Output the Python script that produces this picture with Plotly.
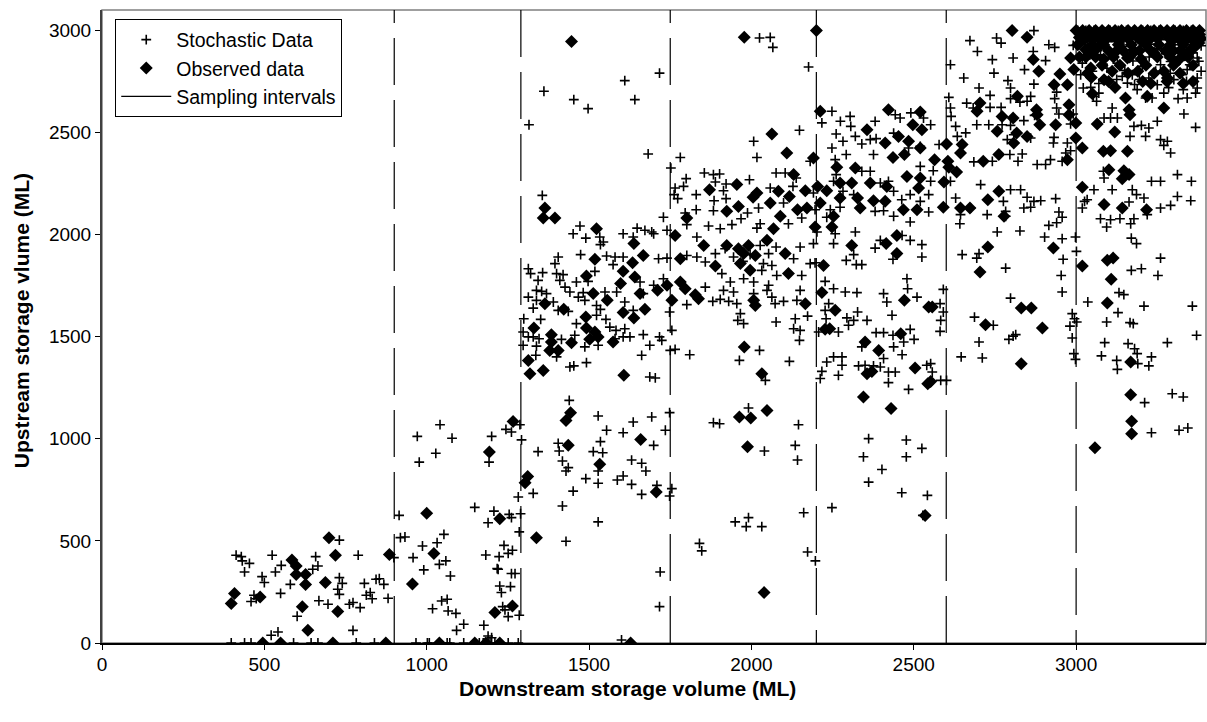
import plotly.graph_objects as go

# Downstream (x) / upstream (y) storage volumes in ML, grouped by sampling interval.

# ---- Stochastic data ----
stoch_a = [(413, 430), (429, 423), (432, 402), (454, 390), (439, 348), (524, 430), (552, 380), (534, 348),
           (493, 325), (500, 296), (468, 234), (459, 203), (475, 217), (550, 243), (580, 287), (601, 131),
           (658, 423), (665, 377), (649, 361), (668, 207), (696, 190), (731, 504), (789, 430), (731, 320),
           (740, 292), (726, 263), (731, 238), (762, 190), (773, 198), (795, 173), (808, 292), (814, 234),
           (826, 247), (832, 217), (844, 312), (773, 62), (521, 38), (542, 54), (854, 315), (868, 287),
           (881, 219), (899, 418), (398, 0), (439, 0), (459, 0), (590, 0), (644, 0), (665, 0), (783, 0), (839, 0)]
stoch_b = [(915, 625), (919, 516), (933, 519), (1053, 532), (987, 475), (1032, 491), (958, 418), (1039, 385),
           (1059, 402), (991, 358), (1073, 328), (1182, 431), (1223, 423), (1238, 478), (1251, 439), (1264, 454),
           (1217, 364), (1220, 361), (1261, 340), (1272, 340), (1225, 279), (1230, 247), (1258, 276), (1046, 206),
           (1063, 214), (1018, 168), (1066, 157), (1090, 145), (1114, 92), (1092, 62), (1176, 87), (1234, 178),
           (1241, 162), (1251, 129), (1285, 136), (1189, 34), (1200, 26), (1148, 664), (1207, 646), (1189, 589),
           (1254, 630), (1261, 614), (1289, 633), (1285, 544), (1282, 715), (1028, 929), (977, 886), (1192, 886),
           (971, 1012), (1078, 1003), (1200, 1012), (1041, 1069), (1244, 1046), (1261, 1033), (1287, 1069),
           (967, 0), (1002, 0), (1008, 0), (1063, 0), (1071, 0), (1114, 0), (1162, 0), (1174, 0), (1195, 0),
           (1210, 0), (1251, 0), (1282, 0)]
stoch_c = [(1292, 995), (1343, 937), (1405, 978), (1408, 940), (1513, 937), (1535, 986), (1542, 932), (1418, 891),
           (1436, 859), (1429, 842), (1490, 805), (1528, 842), (1528, 782), (1587, 798), (1605, 818), (1631, 896),
           (1662, 880), (1675, 842), (1631, 777), (1662, 728), (1451, 744), (1328, 733), (1418, 671), (1528, 593),
           (1429, 498), (1600, 15), (1699, 968), (1709, 772), (1748, 720), (1719, 348), (1717, 178),
           (1451, 2004), (1472, 2042), (1490, 1983), (1533, 1988), (1544, 1964), (1535, 1951), (1605, 2004),
           (1636, 1988), (1648, 2032), (1672, 2021), (1693, 2013), (1405, 1890), (1395, 1858), (1474, 1902),
           (1554, 1895), (1580, 1890), (1605, 1890), (1574, 1853), (1518, 1820), (1313, 1833), (1320, 1809),
           (1357, 1814), (1343, 1776), (1400, 1809), (1420, 1804), (1410, 1776), (1461, 1768), (1497, 1771),
           (1354, 1722), (1369, 1711), (1338, 1727), (1426, 1743), (1441, 1719), (1467, 1694), (1482, 1716),
           (1549, 1719), (1585, 1719), (1313, 1694), (1338, 1678), (1328, 1640), (1390, 1670), (1405, 1629),
           (1436, 1624), (1487, 1678), (1523, 1653), (1535, 1634), (1610, 1670), (1636, 1629), (1667, 1711),
           (1657, 1768), (1299, 1588), (1351, 1585), (1461, 1564), (1523, 1605), (1552, 1585), (1564, 1547),
           (1583, 1531), (1610, 1539), (1297, 1523), (1313, 1499), (1328, 1499), (1346, 1490), (1297, 1458),
           (1338, 1454), (1336, 1409), (1415, 1487), (1456, 1507), (1487, 1450), (1528, 1458), (1580, 1490),
           (1605, 1499), (1626, 1499), (1667, 1510), (1687, 1458), (1400, 1401), (1441, 1352), (1453, 1357),
           (1492, 1373), (1662, 1409), (1687, 1303), (1439, 1188), (1528, 1112), (1636, 1082), (1693, 1107),
           (1554, 1042), (1605, 1030), (1610, 2754), (1641, 2661), (1361, 2702), (1453, 2661), (1497, 2617),
           (1315, 2538), (1682, 2395), (1356, 2192), (1717, 2791), (1699, 2004), (1740, 2021), (1714, 1882),
           (1740, 1885), (1729, 1784), (1699, 1752), (1748, 1621), (1717, 1499), (1724, 1482), (1735, 1042),
           (1748, 1128), (1704, 1298), (1729, 2085)]
stoch_d = [(2040, 940), (2135, 968), (2142, 896), (1755, 756), (2161, 638), (1950, 593), (1991, 614), (1984, 570),
           (2032, 570), (1840, 488), (1847, 451), (2173, 446), (2197, 402),
           (1801, 2049), (1832, 1988), (1868, 2042), (1904, 2029), (1940, 2049), (2017, 2032), (2027, 2053),
           (2114, 2053), (2150, 1939), (2191, 1956), (2181, 1858), (2196, 1862), (1801, 1898), (1832, 1890),
           (1858, 1866), (1889, 1907), (1919, 1931), (1945, 1890), (1974, 1869), (1996, 1902), (2027, 1947),
           (2053, 1907), (2076, 1939), (2104, 1907), (2130, 1882), (2037, 1858), (2063, 1849), (1909, 1809),
           (1935, 1768), (1976, 1784), (2007, 1768), (2032, 1825), (2078, 1800), (2155, 1800), (1858, 1743),
           (1914, 1727), (1945, 1719), (2053, 1752), (2048, 1727), (2063, 1694), (2099, 1673), (2073, 1662),
           (2150, 1727), (2140, 1678), (1881, 1673), (1904, 1683), (1930, 1673), (1955, 1662), (1801, 1657),
           (2007, 1711), (1966, 1613), (1958, 1580), (1976, 1564), (2076, 1572), (2135, 1588), (2173, 1601),
           (2130, 1539), (2150, 1531), (2148, 1482), (1755, 1531), (1750, 1433), (1765, 1438), (1810, 1412),
           (1963, 1384), (2025, 1433), (2117, 1379), (2043, 1286), (1991, 1151), (1883, 1079), (1902, 1074),
           (2145, 1069),
           (2025, 2963), (2058, 2966), (2066, 2917), (2176, 2821), (2007, 2457), (2017, 2378), (2148, 2511),
           (1781, 2378), (1752, 2326), (1765, 2228), (1762, 2196), (1791, 2236), (1773, 2176), (1799, 2274),
           (1830, 2196), (1855, 2302), (1883, 2294), (1902, 2297), (1889, 2258), (1922, 2248), (1914, 2215),
           (1885, 2166), (1883, 2117), (1830, 2122), (1796, 2106), (1922, 2176), (1994, 2269), (1968, 2078),
           (1988, 2106), (2022, 2130), (2058, 2228), (2076, 2302), (2104, 2302), (2138, 2277), (2128, 2236),
           (2099, 2155), (2155, 2081), (2181, 2359), (2191, 2204), (2196, 2122)]
stoch_e = [(2361, 1001), (2477, 994), (2525, 953), (2345, 912), (2477, 912), (2402, 850), (2361, 788), (2463, 736),
           (2542, 723), (2248, 663), (2528, 625),
           (2202, 2013), (2253, 1956), (2258, 2004), (2320, 2013), (2381, 1934), (2397, 1972), (2464, 1996),
           (2489, 1972), (2525, 1951), (2525, 1890), (2489, 2062), (2315, 1902), (2292, 1874), (2323, 1853),
           (2340, 1853), (2436, 1879), (2207, 1523), (2227, 1771), (2253, 1735), (2289, 1719), (2325, 1716),
           (2238, 1662), (2227, 1629), (2230, 1588), (2268, 1523), (2294, 1592), (2299, 1556), (2315, 1580),
           (2327, 1621), (2356, 1580), (2407, 1711), (2417, 1670), (2433, 1605), (2479, 1784), (2481, 1735),
           (2510, 1694), (2384, 1520), (2407, 1520), (2436, 1507), (2489, 1536), (2501, 1487), (2469, 1474),
           (2438, 1450), (2464, 1412), (2340, 1450), (2407, 1393), (2330, 1357), (2350, 1360), (2376, 1357),
           (2397, 1352), (2422, 1327), (2443, 1327), (2422, 1275), (2484, 1242), (2268, 1311), (2217, 1330),
           (2232, 1376), (2253, 1401), (2279, 1401), (2279, 1360), (2212, 1295), (2540, 1360),
           (2248, 2604), (2217, 2547), (2274, 2555), (2304, 2579), (2306, 2530), (2261, 2493), (2282, 2457),
           (2320, 2481), (2340, 2444), (2381, 2555), (2366, 2465), (2384, 2470), (2376, 2392), (2258, 2367),
           (2292, 2392), (2248, 2424), (2261, 2294), (2253, 2261), (2340, 2310), (2366, 2310), (2282, 2212),
           (2315, 2196), (2397, 2253), (2422, 2261), (2438, 2212), (2463, 2171), (2489, 2196), (2443, 2587),
           (2458, 2571), (2491, 2596), (2530, 2571), (2438, 2497), (2484, 2424), (2520, 2432), (2520, 2334),
           (2243, 2122), (2273, 2134), (2232, 2085), (2381, 2114), (2407, 2117), (2438, 2090), (2520, 2163),
           (2546, 2196), (2546, 2111),
           (2581, 1662), (2591, 1621), (2583, 1580), (2581, 1526), (2552, 1368), (2557, 1327), (2583, 1286),
           (2601, 1286), (2591, 1732), (2552, 2538), (2560, 2313), (2552, 2261), (2578, 2441)]
stoch_f = [(2642, 2053), (2757, 2013), (2827, 2018), (2916, 2045), (2940, 2058), (2903, 1988), (2957, 1980),
           (2998, 1988), (2649, 1902), (2694, 1885), (2701, 1907), (2783, 1836), (2960, 1879), (2954, 1800),
           (2957, 1719), (2798, 1689), (2687, 1596), (2745, 1556), (2701, 1474), (2793, 1487), (2806, 1503),
           (2814, 1510), (2646, 1401), (2711, 1396), (2988, 1613), (2995, 1588), (2981, 1552), (2988, 1494),
           (2993, 1417), (2998, 1389),
           (2870, 2999), (2673, 2950), (2696, 2897), (2755, 2963), (2769, 2938), (2806, 2865), (2742, 2857),
           (2747, 2791), (2613, 2832), (2654, 2767), (2701, 2718), (2790, 2754), (2798, 2718), (2870, 2737),
           (2841, 2808), (2906, 2852), (2868, 2897), (2916, 2930), (2934, 2917), (2608, 2672), (2613, 2620),
           (2615, 2579), (2663, 2644), (2683, 2620), (2735, 2682), (2735, 2623), (2769, 2623), (2849, 2653),
           (2860, 2677), (2798, 2666), (2827, 2649), (2940, 2698), (2934, 2666), (2940, 2620), (2947, 2591),
           (2872, 2584), (2839, 2558), (2798, 2535), (2772, 2538), (2731, 2538), (2694, 2538), (2808, 2489),
           (2788, 2465), (2860, 2473), (2932, 2476), (2930, 2449), (2973, 2449), (2983, 2542), (2991, 2591),
           (2983, 2411), (2968, 2400), (2957, 2359), (2921, 2367), (2906, 2343), (2880, 2343), (2834, 2395),
           (2821, 2359), (2796, 2392), (2742, 2359), (2685, 2356), (2660, 2498), (2629, 2530), (2634, 2481),
           (2613, 2261), (2706, 2245), (2798, 2220), (2829, 2220), (2849, 2183), (2870, 2163), (2891, 2166),
           (2937, 2176), (2839, 2130), (2860, 2134), (2776, 2163), (2783, 2114), (2726, 2098), (2783, 2090),
           (2947, 2111), (2957, 2085), (2644, 2098), (2629, 2179), (2675, 2130), (2991, 2927)]
stoch_g = [(3036, 1670), (3094, 2037), (3168, 2053), (3170, 1983), (3186, 1956), (3170, 1825), (3201, 1833),
           (3252, 1800), (3260, 1885), (3132, 1716), (3147, 1706), (3129, 1618), (3094, 1572), (3166, 1569),
           (3176, 1564), (3209, 1650), (3358, 1650), (3088, 1471), (3160, 1466), (3180, 1441), (3188, 1417),
           (3078, 1406), (3125, 1384), (3127, 1340), (3190, 1368), (3224, 1357), (3232, 1401), (3281, 1471),
           (3371, 1507), (3211, 1177), (3296, 1221), (3330, 1205), (3232, 1030), (3317, 1042), (3344, 1053),
           (3001, 1918), (3002, 1572),
           (3075, 2078), (3106, 2073), (3135, 2078), (3178, 2078), (3219, 2098), (3260, 2130), (3291, 2143),
           (3312, 2187), (3353, 2166), (3355, 2261), (3312, 2294), (3260, 2261), (3232, 2261), (3209, 2179),
           (3173, 2220), (3186, 2196), (3163, 2160), (3111, 2220), (3086, 2277), (3084, 2310), (3055, 2220),
           (3034, 2171), (3026, 2163), (3019, 2130), (3291, 2400), (3260, 2465), (3270, 2437), (3281, 2457),
           (3332, 2591), (3368, 2525), (3250, 2555), (3201, 2535), (3178, 2530), (3166, 2481), (3214, 2481),
           (3224, 2522), (3106, 2571), (3127, 2571), (3086, 2571), (3111, 2620), (3070, 2693), (3045, 2721),
           (3063, 2653), (3022, 2718), (3053, 2677), (3014, 2783), (3019, 2840), (3024, 2881), (3009, 2933),
           (3065, 2901), (3127, 2840), (3142, 2775), (3158, 2742), (3173, 2783), (3204, 2824), (3224, 2767),
           (3188, 2710), (3214, 2669), (3234, 2669), (3250, 2734), (3270, 2693), (3301, 2759), (3327, 2783),
           (3342, 2808), (3350, 2832), (3373, 2767), (3373, 2718), (3368, 2693), (3342, 2669), (3314, 2666),
           (3373, 2865), (3378, 2849), (3291, 2848), (3260, 2832), (3229, 2933), (3260, 2955), (3317, 2955),
           (3342, 2955), (3096, 2946), (3147, 2922), (3183, 2955), (3034, 2946),
           (3005, 3000), (3030, 3000), (3055, 3000), (3080, 3000), (3105, 3000), (3130, 3000), (3155, 3000),
           (3180, 3000), (3205, 3000), (3230, 3000), (3255, 3000), (3280, 3000), (3305, 3000), (3330, 3000),
           (3355, 3000), (3380, 3000),
           (3020, 2975), (3060, 2970), (3100, 2980), (3140, 2985), (3190, 2975), (3240, 2980), (3285, 2975),
           (3325, 2985), (3365, 2970), (3040, 2920), (3080, 2935), (3120, 2945), (3165, 2905), (3210, 2925),
           (3250, 2910), (3300, 2930), (3340, 2915), (3385, 2925), (3030, 2860), (3075, 2880), (3115, 2870),
           (3175, 2850), (3225, 2870), (3275, 2885), (3320, 2855), (3360, 2890), (3050, 2800), (3095, 2815),
           (3150, 2805), (3195, 2760), (3245, 2800), (3290, 2790), (3340, 2750), (3385, 2800), (3070, 2740),
           (3125, 2760), (3180, 2735), (3285, 2720), (3330, 2710)]

# ---- Observed data ----
obs_a = [(408, 243), (398, 194), (487, 225), (585, 407), (598, 377), (598, 336), (627, 336), (627, 287),
         (688, 296), (699, 516), (719, 430), (617, 177), (726, 154), (634, 62), (495, 0), (550, 0), (711, 0),
         (885, 434), (874, 0)]
obs_b = [(1193, 935), (1000, 635), (1225, 609), (1022, 438), (956, 289), (1210, 149), (1264, 181), (1266, 1085),
         (1039, 0), (1148, 0), (1182, 0), (1225, 0)]
obs_c = [(1311, 815), (1303, 785), (1436, 968), (1533, 875), (1659, 997), (1338, 516), (1628, 0), (1446, 2946),
         (1364, 2130), (1359, 2081), (1395, 2081),
         (1523, 2029), (1638, 1956), (1518, 1879), (1634, 1862), (1605, 1820), (1667, 1898), (1492, 1797),
         (1597, 1760), (1641, 1792), (1513, 1711), (1556, 1678), (1364, 1662), (1422, 1634), (1605, 1618),
         (1638, 1592), (1657, 1711), (1672, 1634), (1490, 1596), (1492, 1543), (1518, 1523), (1502, 1487),
         (1528, 1499), (1446, 1471), (1574, 1474), (1330, 1543), (1384, 1510), (1384, 1474), (1379, 1433),
         (1405, 1433), (1313, 1384), (1318, 1319), (1359, 1335), (1607, 1311), (1443, 1128), (1429, 1090),
         (1711, 1727), (1740, 1752), (1707, 740)]
obs_d = [(1988, 961), (2039, 247),
         (1765, 1996), (1781, 1882), (1853, 1947), (1889, 1846), (1924, 1947), (1960, 1931), (1976, 1907),
         (1991, 1947), (2012, 1898), (1966, 1858), (1996, 1825), (2048, 1972), (2104, 1907), (2114, 1809),
         (2068, 2029), (2196, 2037), (2166, 1662), (1755, 1678), (1781, 1768), (1796, 1735), (1827, 1706),
         (1837, 1686), (2007, 1678), (2012, 1653), (1978, 1450), (2032, 1319), (2048, 1139), (1963, 1107),
         (1998, 1102),
         (1978, 2966), (2200, 2999), (2063, 2493), (2109, 2400), (2191, 2375), (2130, 2294), (1955, 2245),
         (1871, 2220), (2017, 2204), (2005, 2183), (2083, 2212), (2117, 2187), (2166, 2215), (1801, 2081),
         (1924, 2114), (1960, 2138), (2058, 2155), (2089, 2090), (2142, 2122), (2171, 2130)]
obs_e = [(2535, 625),
         (2248, 2037), (2309, 1947), (2222, 1849), (2217, 1716), (2258, 1629), (2227, 1536), (2241, 1539),
         (2415, 1956), (2448, 1996), (2448, 1907), (2471, 1678), (2546, 1645), (2350, 1474), (2392, 1433),
         (2460, 1515), (2356, 1319), (2371, 1330), (2504, 1347), (2543, 1270), (2345, 1205), (2430, 1148),
         (2212, 2604), (2356, 2514), (2422, 2612), (2520, 2600), (2412, 2449), (2453, 2481), (2484, 2457),
         (2520, 2424), (2436, 2378), (2471, 2392), (2497, 2538), (2525, 2514), (2263, 2330), (2320, 2326),
         (2204, 2236), (2232, 2215), (2273, 2253), (2309, 2253), (2366, 2253), (2417, 2236), (2273, 2179),
         (2327, 2179), (2376, 2166), (2412, 2163), (2479, 2285), (2515, 2228), (2520, 2277), (2212, 2155),
         (2253, 2090), (2335, 2130), (2468, 2122), (2510, 2122), (2557, 1645), (2552, 1281), (2564, 2367),
         (2593, 2258), (2591, 2134)]
obs_f = [(2728, 1939), (2704, 1817), (2930, 1934), (2831, 1641), (2862, 1641), (2721, 1559), (2896, 1543),
         (2831, 1368),
         (2803, 2999), (2849, 2966), (2868, 2857), (2885, 2800), (2950, 2786), (2932, 2734), (2973, 2734),
         (2819, 2677), (2878, 2612), (2880, 2587), (2704, 2644), (2695, 2604), (2772, 2579), (2806, 2571),
         (2888, 2538), (2937, 2538), (2978, 2636), (2978, 2587), (2999, 2547), (2999, 2473), (2808, 2449),
         (2757, 2506), (2817, 2498), (2849, 2481), (2601, 2444), (2649, 2441), (2644, 2400), (2605, 2359),
         (2608, 2330), (2632, 2307), (2973, 2367), (2762, 2392), (2714, 2359), (2728, 2171), (2762, 2212),
         (2644, 2130), (2673, 2130), (2778, 2090), (2983, 2865), (2993, 2808)]
obs_g = [(3019, 1846), (3096, 1874), (3114, 1885), (3108, 1781), (3096, 1665), (3168, 1376), (3168, 1216),
         (3171, 1086), (3171, 1025), (3058, 956),
         (3019, 2424), (3019, 2232), (3086, 2147), (3142, 2130), (3217, 2122), (3065, 2542), (3119, 2502),
         (3101, 2318), (3147, 2313), (3142, 2274), (3163, 2294), (3084, 2408), (3106, 2411), (3158, 2408),
         (3166, 2587), (3163, 2612), (3270, 2620), (3270, 2800), (3281, 2767), (3317, 2857), (3378, 2938),
         (3152, 2669), (3219, 2677), (3047, 2770), (3086, 2759), (3111, 2800), (3158, 2865), (3180, 2897),
         (3065, 2914), (3029, 2906), (3045, 2816),
         (3000, 3000), (3020, 3000), (3040, 3000), (3060, 3000), (3080, 3000), (3100, 3000), (3120, 3000),
         (3140, 3000), (3160, 3000), (3180, 3000), (3200, 3000), (3220, 3000), (3240, 3000), (3260, 3000),
         (3280, 3000), (3300, 3000), (3320, 3000), (3340, 3000), (3360, 3000), (3380, 3000),
         (3010, 2965), (3040, 2975), (3075, 2955), (3110, 2975), (3140, 2960), (3170, 2980), (3200, 2950),
         (3235, 2970), (3265, 2985), (3295, 2950), (3325, 2975), (3355, 2960), (3380, 2980), (3030, 2870),
         (3085, 2860), (3125, 2900), (3200, 2860), (3240, 2890), (3300, 2900), (3335, 2880), (3360, 2910),
         (3050, 2690), (3120, 2720), (3190, 2800), (3230, 2740), (3330, 2740),
         (3010, 2985), (3035, 2985), (3065, 2985), (3090, 2985), (3115, 2985), (3150, 2985), (3175, 2985),
         (3210, 2985), (3245, 2985), (3275, 2985), (3310, 2985), (3345, 2985), (3370, 2985),
         (3025, 2955), (3055, 2960), (3095, 2960), (3125, 2960), (3160, 2960), (3190, 2965), (3225, 2955),
         (3250, 2960), (3285, 2965), (3315, 2960), (3340, 2955), (3385, 2960),
         (3005, 2930), (3050, 2930), (3085, 2930), (3130, 2930), (3170, 2930), (3215, 2930), (3255, 2930),
         (3290, 2930), (3330, 2930), (3365, 2930),
         (3045, 2900), (3100, 2900), (3145, 2900), (3195, 2900), (3230, 2900), (3275, 2900), (3320, 2900),
         (3350, 2900), (3010, 2870), (3060, 2870), (3115, 2870), (3165, 2870), (3250, 2870), (3290, 2870),
         (3345, 2870), (3080, 2830), (3135, 2830), (3215, 2830), (3300, 2830), (3360, 2830), (3035, 2790),
         (3160, 2790), (3240, 2790), (3320, 2790), (3100, 2750), (3205, 2750), (3280, 2750), (3360, 2750)]

# Boundaries of the sampling intervals (downstream volume, ML)
interval_x = [900, 1290, 1750, 2200, 2600, 3000]
y_top = 3100

stochastic = stoch_a + stoch_b + stoch_c + stoch_d + stoch_e + stoch_f + stoch_g
observed = obs_a + obs_b + obs_c + obs_d + obs_e + obs_f + obs_g

FONT = "Liberation Sans, Arial, sans-serif"

fig = go.Figure()

fig.add_trace(go.Scatter(
    x=[p[0] for p in stochastic], y=[p[1] for p in stochastic],
    mode="markers", name="Stochastic Data",
    marker=dict(symbol="cross-thin", size=7, color="black", line=dict(color="black", width=1.6)),
))
fig.add_trace(go.Scatter(
    x=[p[0] for p in observed], y=[p[1] for p in observed],
    mode="markers", name="Observed data",
    marker=dict(symbol="diamond", size=10, color="black", line=dict(width=0)),
))
# legend entry for the interval boundaries (drawn solid in the key)
fig.add_trace(go.Scatter(
    x=[None], y=[None], mode="lines", name="Sampling intervals",
    line=dict(color="black", width=1.2),
))
for i, xv in enumerate(interval_x):
    ys = [0, y_top] if i % 2 == 0 else [y_top, 0]
    fig.add_trace(go.Scatter(
        x=[xv, xv], y=ys, mode="lines", showlegend=False, hoverinfo="skip",
        line=dict(color="black", width=1.2, dash="47px,15px"),
    ))

axis_common = dict(
    showgrid=False, zeroline=False, showline=True,
    ticks="outside", ticklen=5, tickcolor="black", tickwidth=1,
    tickfont=dict(family=FONT, size=19, color="black"),
)

fig.update_layout(
    width=1207, height=722,
    margin=dict(l=102, r=1, t=10, b=79),
    paper_bgcolor="white", plot_bgcolor="white",
    font=dict(family=FONT, color="black"),
    xaxis=dict(range=[0, 3400], tickvals=[0, 500, 1000, 1500, 2000, 2500, 3000],
               linecolor="black", linewidth=1.5, ticklabelstandoff=-2, **axis_common),
    yaxis=dict(range=[0, 3100], tickvals=[0, 500, 1000, 1500, 2000, 2500, 3000],
               linecolor="#404040", linewidth=2, **axis_common),
    legend=dict(
        x=0.012, y=0.985, xanchor="left", yanchor="top",
        bgcolor="white", bordercolor="black", borderwidth=1,
        font=dict(family=FONT, size=19.5, color="black"),
        itemwidth=50, tracegroupgap=0,
    ),
    shapes=[dict(type="rect", xref="paper", yref="paper", x0=0, x1=1, y0=0, y1=1,
                 line=dict(color="#808080", width=1.5), layer="below")],
    annotations=[
        dict(text="<b>Downstream storage volume (ML)</b>", xref="paper", yref="paper",
             x=0.476, y=-0.0725, xanchor="center", yanchor="middle", showarrow=False,
             font=dict(family=FONT, size=21, color="black")),
        dict(text="<b>Upstream storage vlume (ML)</b>", xref="paper", yref="paper",
             x=-0.073, y=0.509, xanchor="center", yanchor="middle", textangle=-90, showarrow=False,
             font=dict(family=FONT, size=21, color="black")),
    ],
    showlegend=True,
)

fig.write_html("out.html")
